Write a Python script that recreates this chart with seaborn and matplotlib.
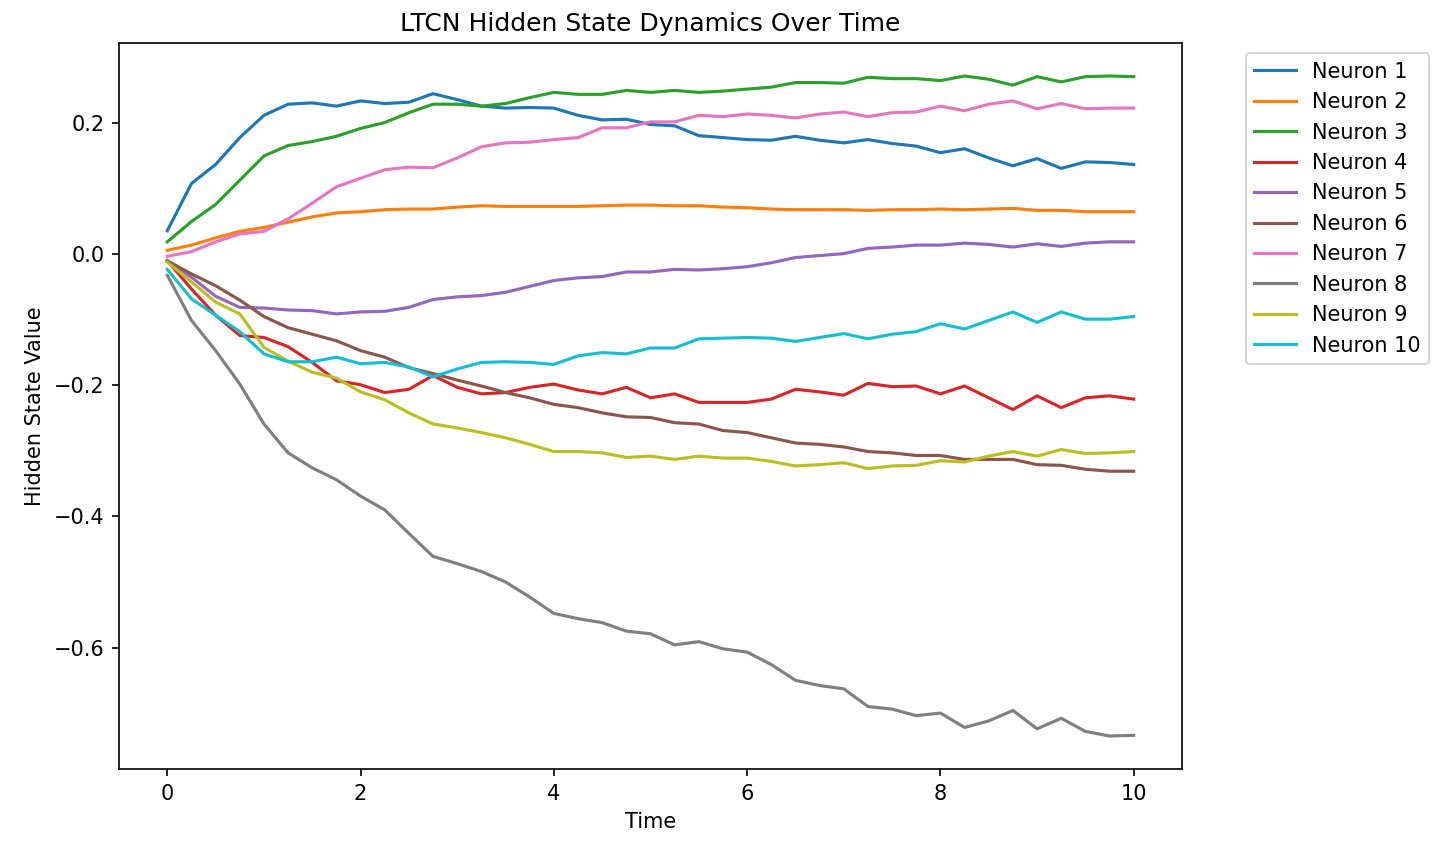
import numpy as np
import pandas as pd
import matplotlib
matplotlib.use("Agg")
import matplotlib.pyplot as plt
import seaborn as sns

# ---------------------- data (step 0.25) ----------------------
time = np.arange(41) * 0.25

neuron_1 = [0.036, 0.108, 0.137, 0.178, 0.212, 0.229, 0.231, 0.226, 0.234, 0.230,
            0.232, 0.245, 0.236, 0.226, 0.223, 0.224, 0.223, 0.212, 0.205, 0.206,
            0.198, 0.196, 0.181, 0.178, 0.175, 0.174, 0.180, 0.174, 0.170, 0.175,
            0.169, 0.165, 0.155, 0.161, 0.147, 0.135, 0.146, 0.131, 0.141, 0.140, 0.137]
neuron_2 = [0.006, 0.014, 0.025, 0.035, 0.041, 0.049, 0.057, 0.063, 0.065, 0.068,
            0.069, 0.069, 0.072, 0.074, 0.073, 0.073, 0.073, 0.073, 0.074, 0.075,
            0.075, 0.074, 0.074, 0.072, 0.071, 0.069, 0.068, 0.068, 0.068, 0.067,
            0.068, 0.068, 0.069, 0.068, 0.069, 0.070, 0.067, 0.067, 0.065, 0.065, 0.065]
neuron_3 = [0.019, 0.050, 0.076, 0.113, 0.150, 0.166, 0.172, 0.180, 0.192, 0.201,
            0.216, 0.229, 0.229, 0.226, 0.230, 0.239, 0.247, 0.244, 0.244, 0.250,
            0.247, 0.250, 0.247, 0.249, 0.252, 0.255, 0.262, 0.262, 0.261, 0.270,
            0.268, 0.268, 0.265, 0.272, 0.267, 0.258, 0.271, 0.263, 0.271, 0.272, 0.271]
neuron_4 = [-0.010, -0.053, -0.093, -0.124, -0.127, -0.141, -0.165, -0.193, -0.199, -0.211,
            -0.206, -0.185, -0.203, -0.213, -0.211, -0.203, -0.198, -0.207, -0.213, -0.203,
            -0.219, -0.213, -0.226, -0.226, -0.226, -0.221, -0.206, -0.210, -0.215, -0.197,
            -0.202, -0.201, -0.213, -0.201, -0.219, -0.237, -0.216, -0.234, -0.219, -0.216, -0.221]
neuron_5 = [-0.010, -0.035, -0.064, -0.081, -0.082, -0.085, -0.086, -0.091, -0.088, -0.087,
            -0.081, -0.069, -0.065, -0.063, -0.058, -0.049, -0.040, -0.036, -0.034, -0.027,
            -0.027, -0.023, -0.024, -0.022, -0.019, -0.013, -0.005, -0.002, 0.001, 0.009,
            0.011, 0.014, 0.014, 0.017, 0.015, 0.011, 0.016, 0.012, 0.017, 0.019, 0.019]
neuron_6 = [-0.010, -0.030, -0.048, -0.070, -0.095, -0.112, -0.122, -0.132, -0.147, -0.157,
            -0.173, -0.182, -0.192, -0.201, -0.211, -0.219, -0.229, -0.234, -0.242, -0.248,
            -0.249, -0.257, -0.259, -0.269, -0.272, -0.280, -0.288, -0.290, -0.294, -0.301,
            -0.303, -0.307, -0.307, -0.313, -0.313, -0.313, -0.321, -0.322, -0.328, -0.331, -0.331]
neuron_7 = [-0.003, 0.004, 0.019, 0.031, 0.035, 0.054, 0.078, 0.103, 0.116, 0.129,
            0.133, 0.132, 0.147, 0.164, 0.170, 0.171, 0.175, 0.178, 0.193, 0.193,
            0.202, 0.202, 0.212, 0.210, 0.214, 0.212, 0.208, 0.214, 0.217, 0.210,
            0.216, 0.217, 0.226, 0.219, 0.229, 0.234, 0.222, 0.230, 0.222, 0.223, 0.223]
neuron_8 = [-0.032, -0.101, -0.147, -0.198, -0.259, -0.303, -0.326, -0.344, -0.369, -0.390,
            -0.426, -0.461, -0.472, -0.484, -0.500, -0.523, -0.548, -0.556, -0.562, -0.575,
            -0.579, -0.596, -0.591, -0.602, -0.607, -0.626, -0.650, -0.658, -0.663, -0.690,
            -0.694, -0.704, -0.700, -0.722, -0.712, -0.696, -0.724, -0.708, -0.728, -0.735, -0.734]
neuron_9 = [-0.012, -0.042, -0.073, -0.091, -0.142, -0.163, -0.180, -0.189, -0.210, -0.222,
            -0.242, -0.259, -0.265, -0.272, -0.280, -0.290, -0.301, -0.301, -0.303, -0.310,
            -0.308, -0.313, -0.308, -0.311, -0.311, -0.316, -0.323, -0.321, -0.318, -0.327,
            -0.323, -0.322, -0.315, -0.317, -0.308, -0.301, -0.308, -0.298, -0.304, -0.303, -0.301]
neuron_10 = [-0.023, -0.068, -0.093, -0.118, -0.152, -0.164, -0.164, -0.157, -0.167, -0.165,
             -0.172, -0.187, -0.175, -0.165, -0.164, -0.165, -0.168, -0.155, -0.150, -0.152,
             -0.143, -0.143, -0.129, -0.128, -0.127, -0.128, -0.133, -0.127, -0.121, -0.129,
             -0.122, -0.118, -0.106, -0.114, -0.101, -0.088, -0.104, -0.088, -0.099, -0.099, -0.095]

series = [neuron_1, neuron_2, neuron_3, neuron_4, neuron_5,
          neuron_6, neuron_7, neuron_8, neuron_9, neuron_10]
labels = [f"Neuron {i + 1}" for i in range(len(series))]

# ---------------------- long table ----------------------
frames = []
for name, vals in zip(labels, series):
    frames.append(pd.DataFrame({"Time": time, "value": vals, "neuron": name}))
df = pd.concat(frames, ignore_index=True)

# ---------------------- plot ----------------------
fig = plt.figure(figsize=(1456 / 150, 842 / 150), dpi=150)
ax = fig.add_axes([119 / 1456, 1 - 769 / 842, (1182 - 119) / 1456, (769 - 43) / 842])

sns.lineplot(data=df, x="Time", y="value", hue="neuron", hue_order=labels,
             palette="tab10", linewidth=1.5, ax=ax)

ax.set_title("LTCN Hidden State Dynamics Over Time")
ax.set_xlabel("Time")
ax.set_ylabel("Hidden State Value")
ax.set_yticks([-0.6, -0.4, -0.2, 0.0, 0.2])
sns.move_legend(ax, "upper left", bbox_to_anchor=(1.05, 1), title=None)

fig.savefig("out.png", dpi=150)
